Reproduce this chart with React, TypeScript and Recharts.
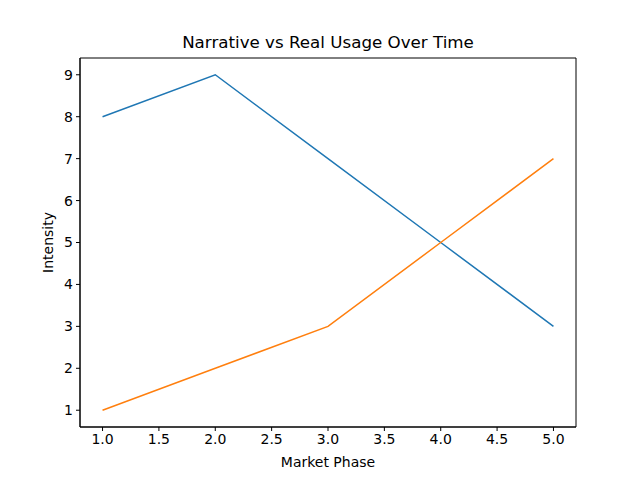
import { LineChart, Line, XAxis, YAxis, ReferenceArea, Label } from 'recharts';

// Values
const phases = [1, 2, 3, 4, 5];
const narrative = [8, 9, 7, 5, 3];
const realUsage = [1, 2, 3, 5, 7];
const xTicks = [1, 1.5, 2, 2.5, 3, 3.5, 4, 4.5, 5];
const yTicks = [1, 2, 3, 4, 5, 6, 7, 8, 9];

const data = phases.map((p, i) => ({ phase: p, narrative: narrative[i], usage: realUsage[i] }));

const FONT = 'DejaVu Sans, sans-serif';
const tickStyle = { fill: '#000', fontSize: 14, fontFamily: FONT };

export default function App() {
  return (
    <div style={{ position: 'absolute', left: 0, top: 0, width: 640, height: 480, background: '#fff' }}>
      <div
        style={{
          position: 'absolute',
          left: 80,
          width: 496,
          top: 32,
          textAlign: 'center',
          fontFamily: FONT,
          fontSize: 16.7,
          lineHeight: '20px',
          color: '#000',
        }}
      >
        Narrative vs Real Usage Over Time
      </div>
      <LineChart width={640} height={480} data={data} margin={{ top: 58, right: 64, bottom: 0, left: 0 }}>
        <XAxis
          type="number"
          dataKey="phase"
          domain={[0.8, 5.2]}
          ticks={xTicks}
          allowDataOverflow
          tickFormatter={(v: number) => v.toFixed(1)}
          height={53}
          tickSize={4}
          tickMargin={3}
          stroke="#000"
          tick={tickStyle}
        >
          <Label
            content={({ viewBox }: any) => (
              <text
                x={viewBox.x + viewBox.width / 2}
                y={467}
                textAnchor="middle"
                fontSize={14}
                fontFamily={FONT}
                fill="#000"
              >
                Market Phase
              </text>
            )}
          />
        </XAxis>
        <YAxis
          type="number"
          domain={[0.6, 9.4]}
          ticks={yTicks}
          allowDataOverflow
          width={80}
          tickSize={4}
          tickMargin={3}
          stroke="#000"
          tick={tickStyle}
        >
          <Label
            content={({ viewBox }: any) => {
              const cy = viewBox.y + viewBox.height / 2;
              return (
                <text
                  x={53}
                  y={cy}
                  transform={`rotate(-90 53 ${cy})`}
                  textAnchor="middle"
                  fontSize={14}
                  fontFamily={FONT}
                  fill="#000"
                >
                  Intensity
                </text>
              );
            }}
          />
        </YAxis>
        <ReferenceArea x1={0.8} x2={5.2} y1={0.6} y2={9.4} fill="none" stroke="#000" strokeWidth={1} ifOverflow="visible" />
        <Line type="linear" dataKey="narrative" stroke="#1f77b4" strokeWidth={1.5} dot={false} isAnimationActive={false} />
        <Line type="linear" dataKey="usage" stroke="#ff7f0e" strokeWidth={1.5} dot={false} isAnimationActive={false} />
      </LineChart>
    </div>
  );
}
